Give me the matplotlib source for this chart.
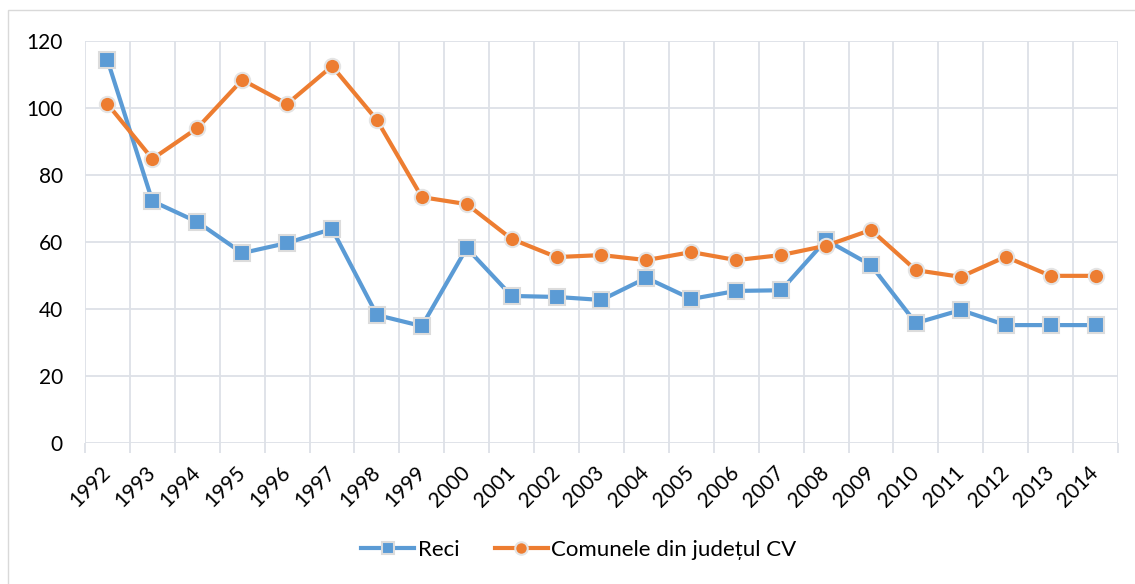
import matplotlib.pyplot as plt
from matplotlib.patches import Rectangle
from matplotlib.lines import Line2D

plt.rcParams['font.family'] = ['Lato', 'DejaVu Sans']

years = [str(y) for y in range(1992, 2015)]
reci = [114.3, 72.2, 66.0, 56.7, 59.7, 63.9, 38.2, 34.9, 58.2, 43.9, 43.6, 42.7,
        49.3, 43.0, 45.4, 45.6, 60.6, 53.1, 35.8, 39.7, 35.2, 35.2, 35.2]
comunele = [101.2, 84.8, 94.0, 108.4, 101.2, 112.5, 96.4, 73.4, 71.3, 60.9, 55.5, 56.1,
            54.6, 57.0, 54.6, 56.1, 58.9, 63.6, 51.6, 49.6, 55.6, 49.9, 49.9]

blue = '#5B9BD5'
orange = '#ED7D31'
grid = '#DDE1E7'

fig = plt.figure(figsize=(11.35, 5.84), dpi=100)
fig.patches.append(Rectangle((8/1135, -0.05), 1.2, 1 - 10/584 + 0.05,
                             transform=fig.transFigure, fill=False,
                             edgecolor='#D9D9D9', linewidth=1))
ax = fig.add_axes([0.0749, 0.2414, 0.9101, 0.6884])

n = len(years)
x = [i + 0.5 for i in range(n)]

ax.plot(x, reci, color=blue, lw=3, marker='s', ms=11, mfc=blue,
        mec='#DCDCDC', mew=1.5, label='Reci', zorder=3)
ax.plot(x, comunele, color=orange, lw=3, marker='o', ms=11, mfc=orange,
        mec='#E4E4E4', mew=1.5, label='Comunele din județul CV', zorder=3)

ax.set_xlim(0, n)
ax.set_ylim(0, 120)
ax.set_yticks(range(0, 121, 20))
ax.set_xticks(range(n + 1))
ax.set_xticklabels([])
ax.set_xticks(x, minor=True)
ax.set_xticklabels(years, minor=True, rotation=45, ha='right', va='center',
                   rotation_mode='anchor', fontsize=15)
ax.tick_params(axis='x', which='major', length=7, color=grid, width=1.3)
ax.tick_params(axis='x', which='minor', length=0, pad=19)
ax.tick_params(axis='y', length=0, pad=16, labelsize=15)
ax.grid(True, which='major', color=grid, lw=1.3)
for s in ax.spines.values():
    s.set_visible(False)
ax.set_axisbelow(True)

handles = [Line2D([], [], color=blue, lw=3, marker='s', ms=9, mfc=blue, mec='#DCDCDC', mew=1.5),
           Line2D([], [], color=orange, lw=3, marker='o', ms=9, mfc=orange, mec='#E4E4E4', mew=1.5)]
fig.legend(handles, ['Reci', 'Comunele din județul CV'], loc='center',
           bbox_to_anchor=(0.51, 1 - 550/584), ncol=2, frameon=False,
           fontsize=16, handlelength=2.4, handletextpad=0.15, columnspacing=1.6)

fig.savefig('out.png', dpi=100)
